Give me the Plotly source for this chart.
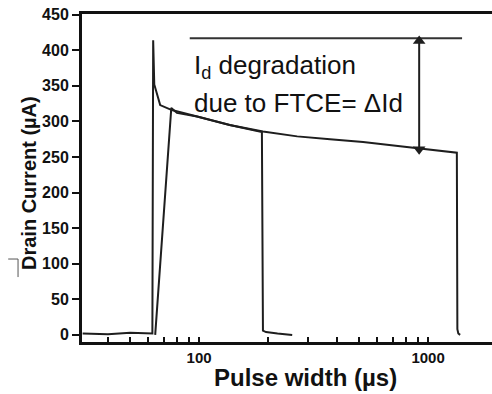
import numpy as np
import plotly.graph_objects as go

# ---- data ----
long_x = [31, 40, 50, 62.5, 63.0, 63.7, 67.6, 76, 98, 136, 190, 268, 373, 520, 755, 1000, 1285, 1335, 1342, 1355, 1380]
long_y = [2, 1, 3, 2, 414, 352, 323, 316, 307, 295, 286, 279, 275, 271, 265, 261, 257, 256, 8, 2, 0]

short_x = [64.3, 75.6, 80, 98, 136, 188, 190, 196, 220, 255]
short_y = [0, 319, 312, 307, 295, 285, 6, 4, 2, 0]

ref_line_x = [91, 1407]
ref_line_y = [417, 417]

arrow_x = [914, 914]
arrow_y = [413, 261]

x_tickvals = [30, 40, 50, 60, 70, 80, 90, 100, 200, 300, 400, 500, 600, 700, 800, 900, 1000, 2000]
x_ticktext = ["", "", "", "", "", "", "", "100", "", "", "", "", "", "", "", "", "1000", ""]
y_tickvals = [0, 50, 100, 150, 200, 250, 300, 350, 400, 450]

FONT = "Liberation Sans, Arial, sans-serif"
LC = "#1e1e1e"

fig = go.Figure()
fig.add_trace(go.Scatter(x=long_x, y=long_y, mode="lines", line=dict(color=LC, width=2), hoverinfo="skip"))
fig.add_trace(go.Scatter(x=short_x, y=short_y, mode="lines", line=dict(color=LC, width=2), hoverinfo="skip"))
fig.add_trace(go.Scatter(x=ref_line_x, y=ref_line_y, mode="lines", line=dict(color="#333", width=2), hoverinfo="skip"))
fig.add_trace(go.Scatter(x=arrow_x, y=arrow_y, mode="lines", line=dict(color=LC, width=2), hoverinfo="skip"))
fig.add_trace(go.Scatter(x=arrow_x, y=arrow_y, mode="markers",
                         marker=dict(symbol=["triangle-up", "triangle-down"], size=11, color=LC, line=dict(width=0)),
                         hoverinfo="skip"))

fig.update_layout(
    width=492, height=394,
    margin=dict(l=82, r=0, t=14, b=52),
    plot_bgcolor="white", paper_bgcolor="white",
    showlegend=False,
    font=dict(family=FONT, color="#111"),
    xaxis=dict(
        type="log", range=[np.log10(30.8), 3.279],
        tickvals=x_tickvals, ticktext=x_ticktext,
        ticks="inside", ticklen=5, tickwidth=2, tickcolor="#111",
        showline=True, linewidth=3, linecolor="#111", mirror=True,
        showgrid=False, zeroline=False,
        tickfont=dict(size=15, family=FONT, weight="bold", color="#111"),
    ),
    yaxis=dict(
        range=[-10, 451],
        tickvals=y_tickvals,
        ticks="outside", ticklen=7, tickwidth=2, tickcolor="#111",
        showline=True, linewidth=3, linecolor="#111",
        showgrid=False, zeroline=False,
        tickfont=dict(size=16, family=FONT, weight="bold", color="#111"),
    ),
    annotations=[
        dict(text="Pulse width (µs)", xref="paper", yref="paper", x=0.546, y=-0.107,
             showarrow=False, font=dict(size=24, family=FONT, weight="bold", color="#111"),
             xanchor="center", yanchor="middle"),
        dict(text="Drain Current (µA)", xref="paper", yref="paper", x=-0.129, y=0.485,
             showarrow=False, textangle=-90, font=dict(size=20, family=FONT, weight="bold", color="#111"),
             xanchor="center", yanchor="middle"),
        dict(text="I<sub>d</sub> degradation", xref="paper", yref="paper", x=0.268, y=0.840,
             showarrow=False, font=dict(size=26, family=FONT, color="#111"),
             xanchor="left", yanchor="middle"),
        dict(text="due to FTCE= ΔId", xref="paper", yref="paper", x=0.268, y=0.729,
             showarrow=False, font=dict(size=26, family=FONT, color="#111"),
             xanchor="left", yanchor="middle"),
    ],
    shapes=[
        dict(type="line", xref="paper", yref="paper", x0=-0.180, x1=-0.156, y0=0.253, y1=0.253,
             line=dict(color="#555", width=1)),
        dict(type="line", xref="paper", yref="paper", x0=-0.156, x1=-0.156, y0=0.253, y1=0.198,
             line=dict(color="#555", width=1)),
    ],
)

fig.write_html("out.html")
